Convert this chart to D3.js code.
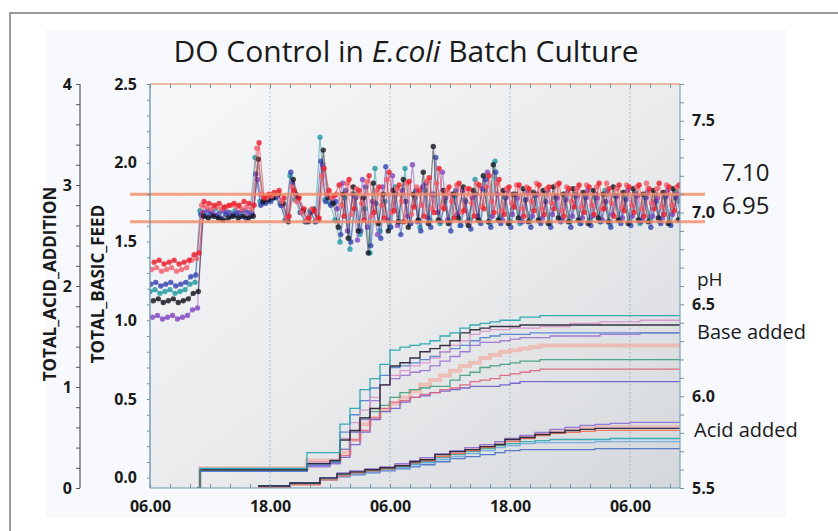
<!DOCTYPE html>
<html><head><meta charset="utf-8">
<script src="https://cdn.jsdelivr.net/npm/d3@7"></script>
<style>
html,body{margin:0;padding:0;background:#fff;}
svg{display:block;font-family:"Open Sans",sans-serif;}
</style></head><body>
<svg id="c" width="838" height="531"></svg>
<script>
// ---------------- DATA ----------------
const titleParts = [["DO Control in ", false], ["E.coli", true], [" Batch Culture", false]];
const xTickHours = [0, 12, 24, 36, 48];
const xTickLabels = ["06.00", "18.00", "06.00", "18.00", "06.00"];
const acidTicks = [0, 1, 2, 3, 4];
const feedTicks = [0.0, 0.5, 1.0, 1.5, 2.0, 2.5];
const phTicks = [5.5, 6.0, 6.5, 7.0, 7.5];
const phLimits = [7.10, 6.95];
const phLimitLabels = ["7.10", "6.95"];
const sideLabels = ["pH", "Base added", "Acid added"];

// pH readings every half hour from 06.00 (hours 0..53)
const phStepHours = 0.5;
const phOffsets = [0, 0.25, 0.08, 0.33, 0.16, 0.41];
const phRed = [
6.73,6.74,6.72,6.73,6.74,6.72,6.73,6.74,6.77,6.78,
7.06,7.05,7.04,7.05,7.03,7.04,7.05,7.04,7.06,7.05,7.04,
7.38,
7.08,7.10,7.11,7.12,7.08,6.98,7.12,7.08,7.02,6.97,7.01,6.97,7.24,7.12,7.09,
7.15,6.98,7.18,7.02,7.12,6.96,7.20,7.00,7.14,6.97,
7.22,7.01,7.15,6.95,7.17,7.03,7.12,6.98,7.19,7.00,
7.24,7.02,7.14,6.97,7.16,7.01,7.13,6.98,7.15,7.02,
7.20,7.00,7.18,6.99,7.14,7.03,7.15,6.98,7.13,7.01,
7.15,6.99,7.14,7.02,7.16,6.98,7.13,7.03,7.15,7.00,
7.14,6.99,7.16,7.02,7.13,6.98,7.15,7.01,7.14,7.00,
7.15,6.98,7.13,7.02,7.16,6.99,7.14,7.01,7.15,7.05];
const phPink = [
6.69,6.70,6.68,6.69,6.70,6.68,6.69,6.70,6.74,6.75,
7.04,7.03,7.02,7.03,7.02,7.03,7.04,7.03,7.02,7.03,7.02,
7.35,
7.10,7.08,7.09,7.10,7.06,6.97,7.14,7.06,7.00,6.96,7.02,6.96,7.20,7.10,7.08,
7.10,7.04,7.16,6.99,7.13,7.05,7.17,6.98,7.12,7.04,
7.18,7.00,7.13,7.06,7.16,6.99,7.14,7.04,7.17,7.02,
7.16,7.03,7.12,7.06,7.15,7.00,7.13,7.05,7.16,7.03,
7.14,7.06,7.16,7.01,7.13,7.05,7.15,7.02,7.14,7.06,
7.16,7.02,7.13,7.05,7.15,7.01,7.14,7.06,7.13,7.03,
7.15,7.04,7.14,7.02,7.16,7.05,7.13,7.03,7.15,7.04,
7.14,7.02,7.16,7.05,7.13,7.03,7.15,7.04,7.14,7.06];
const phBlue = [
6.61,6.62,6.60,6.61,6.62,6.60,6.61,6.62,6.65,6.66,
6.99,6.98,6.99,6.98,6.97,6.99,6.98,6.99,6.98,6.97,6.98,
7.21,
7.04,7.05,7.06,7.08,7.04,6.96,7.22,7.10,7.00,6.95,7.00,6.95,7.28,7.06,7.04,
7.06,6.88,7.12,6.84,7.08,6.90,7.14,6.82,7.05,6.86,
7.25,6.92,7.10,6.88,7.06,6.94,7.12,6.90,7.16,6.92,
7.30,6.95,7.08,6.90,7.12,6.93,7.06,6.91,7.10,6.94,
7.18,6.92,7.22,6.94,7.08,6.92,7.10,6.95,7.07,6.92,
7.10,6.94,7.06,6.92,7.09,6.95,7.07,6.92,7.10,6.94,
7.08,6.93,7.10,6.95,7.06,6.92,7.09,6.94,7.07,6.93,
7.10,6.95,7.08,6.92,7.06,6.94,7.09,6.93,7.08,7.00];
const phBlack = [
6.52,6.53,6.51,6.52,6.53,6.51,6.52,6.53,6.56,6.57,
6.98,6.97,6.98,6.97,6.96,6.97,6.98,6.97,6.98,6.97,6.98,
7.29,
7.06,7.07,7.08,7.10,7.05,6.95,7.18,7.08,7.01,6.95,7.02,6.96,7.34,7.08,7.05,
6.92,7.10,6.86,7.14,6.90,7.08,6.78,7.16,6.94,7.10,
6.90,7.12,6.95,7.18,6.92,7.10,6.96,7.22,6.94,7.36,
6.96,7.12,6.94,7.10,6.97,7.14,6.93,7.12,6.96,7.20,
6.95,7.26,6.96,7.12,6.94,7.10,6.97,7.13,6.95,7.11,
6.96,7.12,6.94,7.14,6.97,7.10,6.95,7.13,6.96,7.11,
6.94,7.12,6.97,7.10,6.95,7.14,6.96,7.11,6.94,7.13,
6.96,7.10,6.95,7.12,6.97,7.11,6.94,7.13,6.96,7.08];
const phPurple = [
6.43,6.44,6.42,6.43,6.44,6.42,6.43,6.44,6.47,6.48,
7.00,7.01,7.00,6.99,7.01,7.00,6.99,7.00,7.01,7.00,6.99,
7.18,
7.05,7.07,7.08,7.09,7.04,6.96,7.16,7.08,7.01,6.96,7.01,6.96,7.26,7.10,7.06,
7.02,7.16,6.90,7.10,6.85,7.18,6.92,7.06,6.88,7.14,
6.96,7.20,6.93,7.12,6.98,7.26,6.95,7.14,6.97,7.10,
7.00,7.22,6.96,7.10,6.99,7.12,6.95,7.08,6.98,7.13,
7.22,6.98,7.10,6.96,7.12,6.99,7.08,6.95,7.11,6.98,
7.10,6.97,7.12,6.99,7.08,6.96,7.11,6.98,7.09,6.97,
7.12,6.98,7.08,6.96,7.11,6.99,7.09,6.97,7.12,6.98,
7.09,6.96,7.11,6.98,7.08,6.97,7.12,6.99,7.10,7.02];
const phTeal = [
6.57,6.58,6.56,6.57,6.58,6.56,6.57,6.58,6.61,6.62,
7.01,7.00,7.01,7.02,7.00,7.01,7.00,7.01,7.00,7.01,7.00,
7.30,
7.06,7.06,7.07,7.09,7.05,6.96,7.20,7.07,7.00,6.95,7.01,6.95,7.41,7.07,7.05,
6.96,6.84,7.08,6.80,7.10,6.88,7.02,6.78,7.24,6.90,
7.06,6.92,7.14,6.95,7.24,6.94,7.08,6.92,7.12,6.96,
7.10,6.94,7.06,6.95,7.09,6.93,7.07,6.96,7.18,6.95,
7.12,6.94,7.28,6.97,7.08,6.95,7.10,6.94,7.07,6.96,
7.09,6.95,7.11,6.94,7.08,6.96,7.10,6.95,7.09,6.94,
7.10,6.96,7.08,6.95,7.12,6.94,7.09,6.96,7.08,6.95,
7.11,6.94,7.09,6.96,7.10,6.95,7.08,6.94,7.12,7.06];

// cumulative base added (TOTAL_BASIC_FEED axis)
const baseHours = [4.7,5,15.7,18,19,20,21,22,23,24,25,26,27,28,29,30,31,32,33,34,35,36,37,38,39,40,42,45,49,53];
const baseTeal   = [-0.065,0.06,0.16,0.16,0.34,0.44,0.56,0.63,0.72,0.81,0.83,0.84,0.85,0.87,0.90,0.92,0.95,0.97,0.98,0.99,1.00,1.00,1.02,1.02,1.03,1.03,1.03,1.03,1.03,1.03];
const baseBlack  = [-0.065,0.05,0.09,0.11,0.24,0.30,0.38,0.44,0.59,0.71,0.73,0.76,0.80,0.82,0.84,0.87,0.92,0.94,0.95,0.96,0.96,0.96,0.97,0.97,0.97,0.97,0.97,0.97,0.97,0.97];
const baseBlue   = [-0.065,0.04,0.08,0.10,0.29,0.40,0.49,0.57,0.65,0.70,0.71,0.73,0.75,0.77,0.80,0.82,0.84,0.87,0.89,0.90,0.91,0.91,0.91,0.92,0.92,0.92,0.92,0.92,0.92,0.92];
const basePink   = [-0.065,0.06,0.10,0.11,0.25,0.35,0.43,0.51,0.59,0.65,0.68,0.71,0.73,0.76,0.80,0.84,0.87,0.91,0.93,0.94,0.94,0.95,0.95,0.95,0.96,0.96,0.98,0.99,1.00,1.00];
const basePurple = [-0.065,0.04,0.07,0.09,0.18,0.29,0.37,0.49,0.59,0.63,0.65,0.67,0.68,0.71,0.74,0.77,0.80,0.84,0.86,0.86,0.87,0.88,0.89,0.89,0.89,0.90,0.90,0.91,0.92,0.92];
const baseSalmon = [-0.065,0.06,0.11,0.11,0.16,0.24,0.34,0.38,0.43,0.47,0.51,0.55,0.59,0.62,0.65,0.68,0.71,0.73,0.76,0.78,0.80,0.81,0.82,0.83,0.84,0.84,0.84,0.84,0.84,0.84];
const baseGreen  = [-0.065,0.05,0.09,0.10,0.18,0.29,0.38,0.42,0.46,0.51,0.54,0.56,0.57,0.58,0.58,0.62,0.65,0.67,0.70,0.71,0.72,0.73,0.74,0.74,0.75,0.75,0.75,0.75,0.75,0.75];
const baseRed    = [-0.065,0.05,0.09,0.10,0.14,0.24,0.30,0.38,0.44,0.48,0.49,0.51,0.53,0.54,0.56,0.57,0.59,0.61,0.62,0.63,0.65,0.66,0.67,0.68,0.69,0.69,0.69,0.69,0.69,0.69];
const baseViolet = [-0.065,0.04,0.08,0.09,0.13,0.21,0.29,0.37,0.42,0.44,0.48,0.51,0.52,0.54,0.55,0.56,0.57,0.58,0.58,0.58,0.59,0.60,0.61,0.61,0.61,0.61,0.61,0.61,0.61,0.61];

// cumulative acid added (TOTAL_ACID_ADDITION axis)
const acidHours = [10.8,14,17,18.7,20,21.5,23,24.5,26,27,28.5,30,31.5,33,34.5,35.5,37,38.5,40,41.5,43,44.5,46,48,53];
const acidPurple = [0.02,0.05,0.10,0.15,0.17,0.19,0.21,0.24,0.27,0.30,0.34,0.37,0.40,0.43,0.46,0.49,0.52,0.55,0.58,0.60,0.62,0.63,0.64,0.65,0.65];
const acidPink   = [0.01,0.04,0.09,0.13,0.16,0.18,0.20,0.23,0.26,0.29,0.32,0.35,0.39,0.42,0.45,0.48,0.51,0.54,0.56,0.58,0.60,0.61,0.61,0.61,0.61];
const acidBlack  = [0.02,0.05,0.10,0.14,0.16,0.18,0.20,0.22,0.26,0.28,0.33,0.36,0.38,0.41,0.43,0.48,0.50,0.53,0.55,0.57,0.58,0.59,0.59,0.59,0.59];
const acidOrange = [0.01,0.03,0.08,0.12,0.15,0.17,0.19,0.22,0.25,0.27,0.31,0.34,0.37,0.40,0.43,0.46,0.49,0.52,0.54,0.55,0.56,0.57,0.57,0.57,0.57];
const acidTeal   = [0.02,0.04,0.09,0.13,0.15,0.17,0.19,0.21,0.24,0.26,0.30,0.33,0.36,0.39,0.42,0.44,0.46,0.47,0.48,0.48,0.48,0.48,0.49,0.49,0.49];
const acidSky    = [0.02,0.05,0.09,0.12,0.14,0.16,0.18,0.20,0.23,0.25,0.28,0.31,0.34,0.37,0.40,0.42,0.44,0.45,0.45,0.45,0.45,0.46,0.46,0.46,0.46];
const acidBlue   = [0.02,0.04,0.08,0.11,0.13,0.15,0.17,0.19,0.21,0.23,0.26,0.29,0.31,0.33,0.35,0.37,0.38,0.38,0.38,0.38,0.38,0.39,0.39,0.39,0.39];

// ---------------- LAYOUT ----------------
const L = 150, R = 680, T = 84, B = 488;
const svg = d3.select("#c");
const x = d3.scaleLinear().domain([0, 53]).range([L, R]);
const yAcid = d3.scaleLinear().domain([0, 4]).range([B, T]);
const yFeed = d3.scaleLinear().domain([-0.065, 2.5]).range([B, T]);
const yPh = d3.scaleLinear().domain([5.5, 7.7]).range([B, T]);

// frame and panel
svg.append("path").attr("d", "M10,531 V13 H838").attr("fill", "none").attr("stroke", "#7a7a7a").attr("stroke-width", 1.5);
svg.append("rect").attr("x", 45).attr("y", 30).attr("width", 742).attr("height", 488).attr("fill", "#f7f9fc");

const defs = svg.append("defs");
const grad = defs.append("linearGradient").attr("id", "bg").attr("x1", 0).attr("y1", 0).attr("x2", 1).attr("y2", 1);
grad.append("stop").attr("offset", "0%").attr("stop-color", "#f7f8fa");
grad.append("stop").attr("offset", "55%").attr("stop-color", "#e8eaec");
grad.append("stop").attr("offset", "100%").attr("stop-color", "#d5d8db");
defs.append("clipPath").attr("id", "clip").append("rect").attr("x", L).attr("y", T - 2).attr("width", R - L).attr("height", B - T + 2);

svg.append("rect").attr("x", L).attr("y", T).attr("width", R - L).attr("height", B - T).attr("fill", "url(#bg)");

// grid
svg.append("g").selectAll("line").data(xTickHours.slice(1)).join("line")
  .attr("x1", d => x(d)).attr("x2", d => x(d)).attr("y1", T).attr("y2", B)
  .attr("stroke", "#8fb2c8").attr("stroke-width", 1).attr("stroke-dasharray", "1.5,2.5");

// title
const title = svg.append("text").attr("x", 406).attr("y", 62).attr("text-anchor", "middle")
  .attr("font-size", 30).attr("fill", "#1a1a1a");
titleParts.forEach(([t, it]) => title.append("tspan").text(t).attr("font-style", it ? "italic" : "normal"));

const plot = svg.append("g").attr("clip-path", "url(#clip)");

// base added
const stepLine = (xs, ys, yScale) => d3.line().curve(d3.curveStepAfter).x((d, i) => x(xs[i])).y(d => yScale(d))(ys);
const baseSeries = [
  [baseSalmon, "#f4a596", 4, 0.6],
  [baseViolet, "#6a5ccc", 1.3, 0.9],
  [baseRed, "#e0607a", 1.3, 0.9],
  [baseGreen, "#3f9f7a", 1.3, 0.9],
  [basePurple, "#9a70d0", 1.3, 0.9],
  [baseBlue, "#4f7fd0", 1.3, 0.9],
  [basePink, "#d890c8", 1.3, 0.9],
  [baseBlack, "#202030", 1.4, 0.9],
  [baseTeal, "#2aa8b0", 1.3, 0.95]
];
baseSeries.forEach(([v, c, w, o]) => plot.append("path").attr("d", stepLine(baseHours, v, yFeed))
  .attr("fill", "none").attr("stroke", c).attr("stroke-width", w).attr("opacity", o));

// acid added
const acidSeries = [
  [acidPink, "#f0a0a8", 2.5, 0.6],
  [acidBlue, "#4a70c8", 1.3, 0.9],
  [acidSky, "#6aa8e0", 1.3, 0.9],
  [acidTeal, "#2aa8b0", 1.3, 0.9],
  [acidOrange, "#f07050", 1.3, 0.9],
  [acidPurple, "#8a70d8", 1.3, 0.9],
  [acidBlack, "#202030", 1.4, 0.9]
];
acidSeries.forEach(([v, c, w, o]) => plot.append("path").attr("d", stepLine(acidHours, v, yAcid))
  .attr("fill", "none").attr("stroke", c).attr("stroke-width", w).attr("opacity", o));

// pH series
const phSeries = [
  [phTeal, "#1f9aa0"], [phPurple, "#8446c0"], [phBlue, "#3446b0"],
  [phBlack, "#14141e"], [phPink, "#f2606e"], [phRed, "#ec1c28"]
];
phSeries.forEach(([vals, col], k) => {
  const pts = vals.map((v, i) => [i * phStepHours + phOffsets[k], v]);
  plot.append("path").attr("d", d3.line().x(d => x(d[0])).y(d => yPh(d[1]))(pts))
    .attr("fill", "none").attr("stroke", col).attr("stroke-width", 1.2).attr("opacity", 0.5);
  plot.append("g").selectAll("circle").data(pts).join("circle")
    .attr("cx", d => x(d[0])).attr("cy", d => yPh(d[1])).attr("r", 2.7)
    .attr("fill", col).attr("opacity", 0.8);
});

// pH limit lines
svg.append("g").selectAll("line").data(phLimits).join("line")
  .attr("x1", 130).attr("x2", 705).attr("y1", d => yPh(d)).attr("y2", d => yPh(d))
  .attr("stroke", "#f38a66").attr("stroke-width", 3).attr("opacity", 0.8);

// plot border
svg.append("line").attr("x1", L).attr("x2", R).attr("y1", T).attr("y2", T).attr("stroke", "#eba587").attr("stroke-width", 1.5);
svg.append("line").attr("x1", L).attr("x2", R).attr("y1", B).attr("y2", B).attr("stroke", "#6f93aa").attr("stroke-width", 1.2);
svg.append("line").attr("x1", L).attr("x2", L).attr("y1", T).attr("y2", B).attr("stroke", "#5f8aa6").attr("stroke-width", 1.2);
svg.append("line").attr("x1", R).attr("x2", R).attr("y1", T).attr("y2", B).attr("stroke", "#7fa3ba").attr("stroke-width", 1.2);

function styleAxis(g, col) {
  g.select(".domain").remove();
  g.selectAll(".tick line").attr("stroke", col);
}
function styleLabels(g) {
  g.select(".domain").remove();
  g.selectAll("text").attr("font-size", 16).attr("font-weight", "bold").attr("fill", "#1a1a1a").attr("font-family", "Open Sans");
}
const minorHours = d3.range(0, 53, 2);
svg.append("g").attr("transform", `translate(0,${B})`)
  .call(d3.axisBottom(x).tickValues(minorHours).tickSize(-4).tickFormat(""))
  .call(g => styleAxis(g, "#6f93aa"));
svg.append("g").attr("transform", `translate(0,${T})`)
  .call(d3.axisTop(x).tickValues(minorHours).tickSize(-4).tickFormat(""))
  .call(g => styleAxis(g, "#6f93aa"));
svg.append("g").attr("transform", `translate(0,${B})`)
  .call(d3.axisBottom(x).tickValues(xTickHours).tickSize(0).tickPadding(13).tickFormat((d, i) => xTickLabels[i]))
  .call(styleLabels);

// acid axis
svg.append("line").attr("x1", 80).attr("x2", 80).attr("y1", T).attr("y2", B).attr("stroke", "#555").attr("stroke-width", 1.2);
svg.append("g").attr("transform", "translate(80,0)")
  .call(d3.axisLeft(yAcid).tickValues(d3.range(0, 4.01, 0.2)).tickSize(4).tickFormat(""))
  .call(g => styleAxis(g, "#555"));
svg.append("g").attr("transform", "translate(80,0)")
  .call(d3.axisLeft(yAcid).tickValues(acidTicks).tickSize(0).tickPadding(8).tickFormat(d3.format("d")))
  .call(styleLabels);

// feed axis
svg.append("g").attr("transform", `translate(${L},0)`)
  .call(d3.axisLeft(yFeed).tickValues(d3.range(0, 2.51, 0.1)).tickSize(3).tickFormat(""))
  .call(g => styleAxis(g, "#6f93aa"));
svg.append("g").attr("transform", `translate(${L},0)`)
  .call(d3.axisLeft(yFeed).tickValues(feedTicks).tickSize(0).tickPadding(13).tickFormat(d3.format(".1f")))
  .call(styleLabels);

// pH axis
svg.append("g").attr("transform", `translate(${R},0)`)
  .call(d3.axisRight(yPh).tickValues(d3.range(5.5, 7.71, 0.1)).tickSize(4).tickFormat(""))
  .call(g => styleAxis(g, "#6f93aa"));
svg.append("g").attr("transform", `translate(${R},0)`)
  .call(d3.axisRight(yPh).tickValues(phTicks).tickSize(0).tickPadding(12).tickFormat(d3.format(".1f")))
  .call(styleLabels);

// axis titles
svg.append("text").attr("transform", "translate(56,284) rotate(-90)").attr("text-anchor", "middle")
  .attr("font-size", 17).attr("font-weight", "bold").attr("fill", "#1a1a1a").text("TOTAL_ACID_ADDITION");
svg.append("text").attr("transform", "translate(104,284) rotate(-90)").attr("text-anchor", "middle")
  .attr("font-size", 17).attr("font-weight", "bold").attr("fill", "#1a1a1a").text("TOTAL_BASIC_FEED");

// limit labels
svg.append("g").selectAll("text").data(phLimitLabels).join("text")
  .attr("x", 722).attr("y", (d, i) => [181, 214][i]).attr("font-size", 24).attr("fill", "#1a1a1a").text(d => d);

// side labels
svg.append("g").selectAll("text").data(sideLabels).join("text")
  .attr("x", (d, i) => [697, 697, 694][i]).attr("y", (d, i) => [286, 339, 437][i])
  .attr("font-size", (d, i) => i === 0 ? 19 : 20).attr("fill", "#1a1a1a").text(d => d);
</script>
</body></html>
